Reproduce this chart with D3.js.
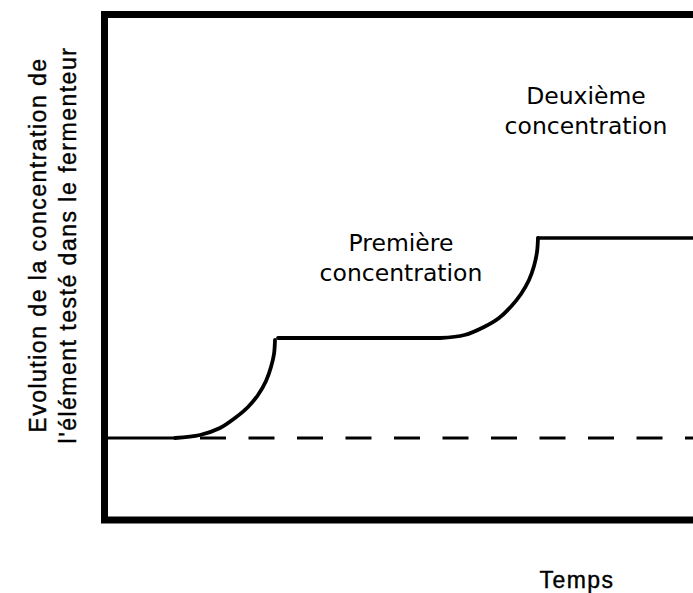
<!DOCTYPE html>
<html>
<head>
<meta charset="utf-8">
<script src="https://cdn.jsdelivr.net/npm/d3@7.9.0/dist/d3.min.js"></script>
<style>
  body { margin: 0; background: #fff; }
  svg { display: block; }
  .axis-label { font-family: "Liberation Sans", Arial, sans-serif; font-size: 23px; letter-spacing: 1.5px; fill: #000; stroke: #000; stroke-width: 0.4px; }
  .note { font-family: "DejaVu Sans", sans-serif; font-size: 23.5px; fill: #000; }
</style>
</head>
<body>
<svg id="chart" width="693" height="593"></svg>
<script>
// time (arbitrary units) and concentration levels
const baselineTime = [0.4, 7.1];
const baselineConc = [1.0, 1.0];
const riseOneTime = [7.1, 9.6, 11.6, 13.1, 14.4, 15.4, 16.2, 16.7, 17.0, 17.1];
const riseOneConc = [1.0, 1.03, 1.10, 1.20, 1.31, 1.43, 1.57, 1.71, 1.84, 1.98];
const plateauOneTime = [17.4, 33.6];
const plateauOneConc = [2.0, 2.0];
const riseTwoTime = [33.6, 36.05, 38.0, 39.5, 40.75, 41.7, 42.5, 43.0, 43.3, 43.4];
const riseTwoConc = [2.0, 2.03, 2.11, 2.20, 2.32, 2.44, 2.58, 2.72, 2.86, 3.0];
const plateauTwoTime = [43.4, 60];
const plateauTwoConc = [3.0, 3.0];
const dashedTime = [9.6, 60];
const dashedConc = [1.0, 1.0];

const yLabelLines = ["Evolution de la concentration de", "l'élément testé dans le fermenteur"];
const xLabel = "Temps";
const notes = [
  { lines: ["Première", "concentration"], t: 29.7, c: 2.87 },
  { lines: ["Deuxième", "concentration"], t: 48.2, c: 4.34 }
];

const frame = { left: 104.5, top: 14.5, right: 710, bottom: 520 };

const x = d3.scaleLinear().domain([0, 60]).range([104, 704]);
const y = d3.scaleLinear().domain([0, 5]).range([538, 38]);

const svg = d3.select('#chart');

svg.append('rect')
  .attr('x', frame.left)
  .attr('y', frame.top)
  .attr('width', frame.right - frame.left)
  .attr('height', frame.bottom - frame.top)
  .attr('fill', 'none')
  .attr('stroke', '#000')
  .attr('stroke-width', 7);

let straight = d3.line()
  .x((d) => x(d[0]))
  .y((d) => y(d[1]));

let smooth = d3.line()
  .x((d) => x(d[0]))
  .y((d) => y(d[1]))
  .curve(d3.curveCatmullRom.alpha(0.5));

const zip = (ts, cs) => ts.map((t, i) => [t, cs[i]]);

svg.append('path')
  .datum(zip(dashedTime, dashedConc))
  .attr('d', straight)
  .attr('fill', 'none')
  .attr('stroke', '#000')
  .attr('stroke-width', 3)
  .attr('stroke-dasharray', '26 22.5');

let segments = [
  [zip(baselineTime, baselineConc), straight, 3],
  [zip(riseOneTime, riseOneConc), smooth, 3.8],
  [zip(plateauOneTime, plateauOneConc), straight, 3.8],
  [zip(riseTwoTime, riseTwoConc), smooth, 3.8],
  [zip(plateauTwoTime, plateauTwoConc), straight, 3.5],
];

segments.forEach(([pts, gen, w]) => {
  svg.append('path')
    .datum(pts)
    .attr('d', gen)
    .attr('fill', 'none')
    .attr('stroke', '#000')
    .attr('stroke-width', w)
    .attr('stroke-linecap', 'round');
});

notes.forEach((n) => {
  let txt = svg.append('text')
    .attr('class', 'note')
    .attr('text-anchor', 'middle')
    .attr('x', x(n.t))
    .attr('y', y(n.c));
  n.lines.forEach((l, i) => {
    txt.append('tspan')
      .attr('x', x(n.t))
      .attr('dy', i === 0 ? 0 : 30)
      .text(l);
  });
});

// rotated y label, two lines
yLabelLines.forEach((l, i) => {
  svg.append('text')
    .attr('class', 'axis-label')
    .attr('text-anchor', 'middle')
    .attr('transform', `translate(${46 + i * 30}, 245) rotate(-90)`)
    .text(l);
});

svg.append('text')
  .attr('class', 'axis-label')
  .attr('text-anchor', 'middle')
  .attr('x', 577)
  .attr('y', 588)
  .style('font-size', '23px')
  .style('letter-spacing', '1.5px')
  .text(xLabel);
</script>
</body>
</html>
